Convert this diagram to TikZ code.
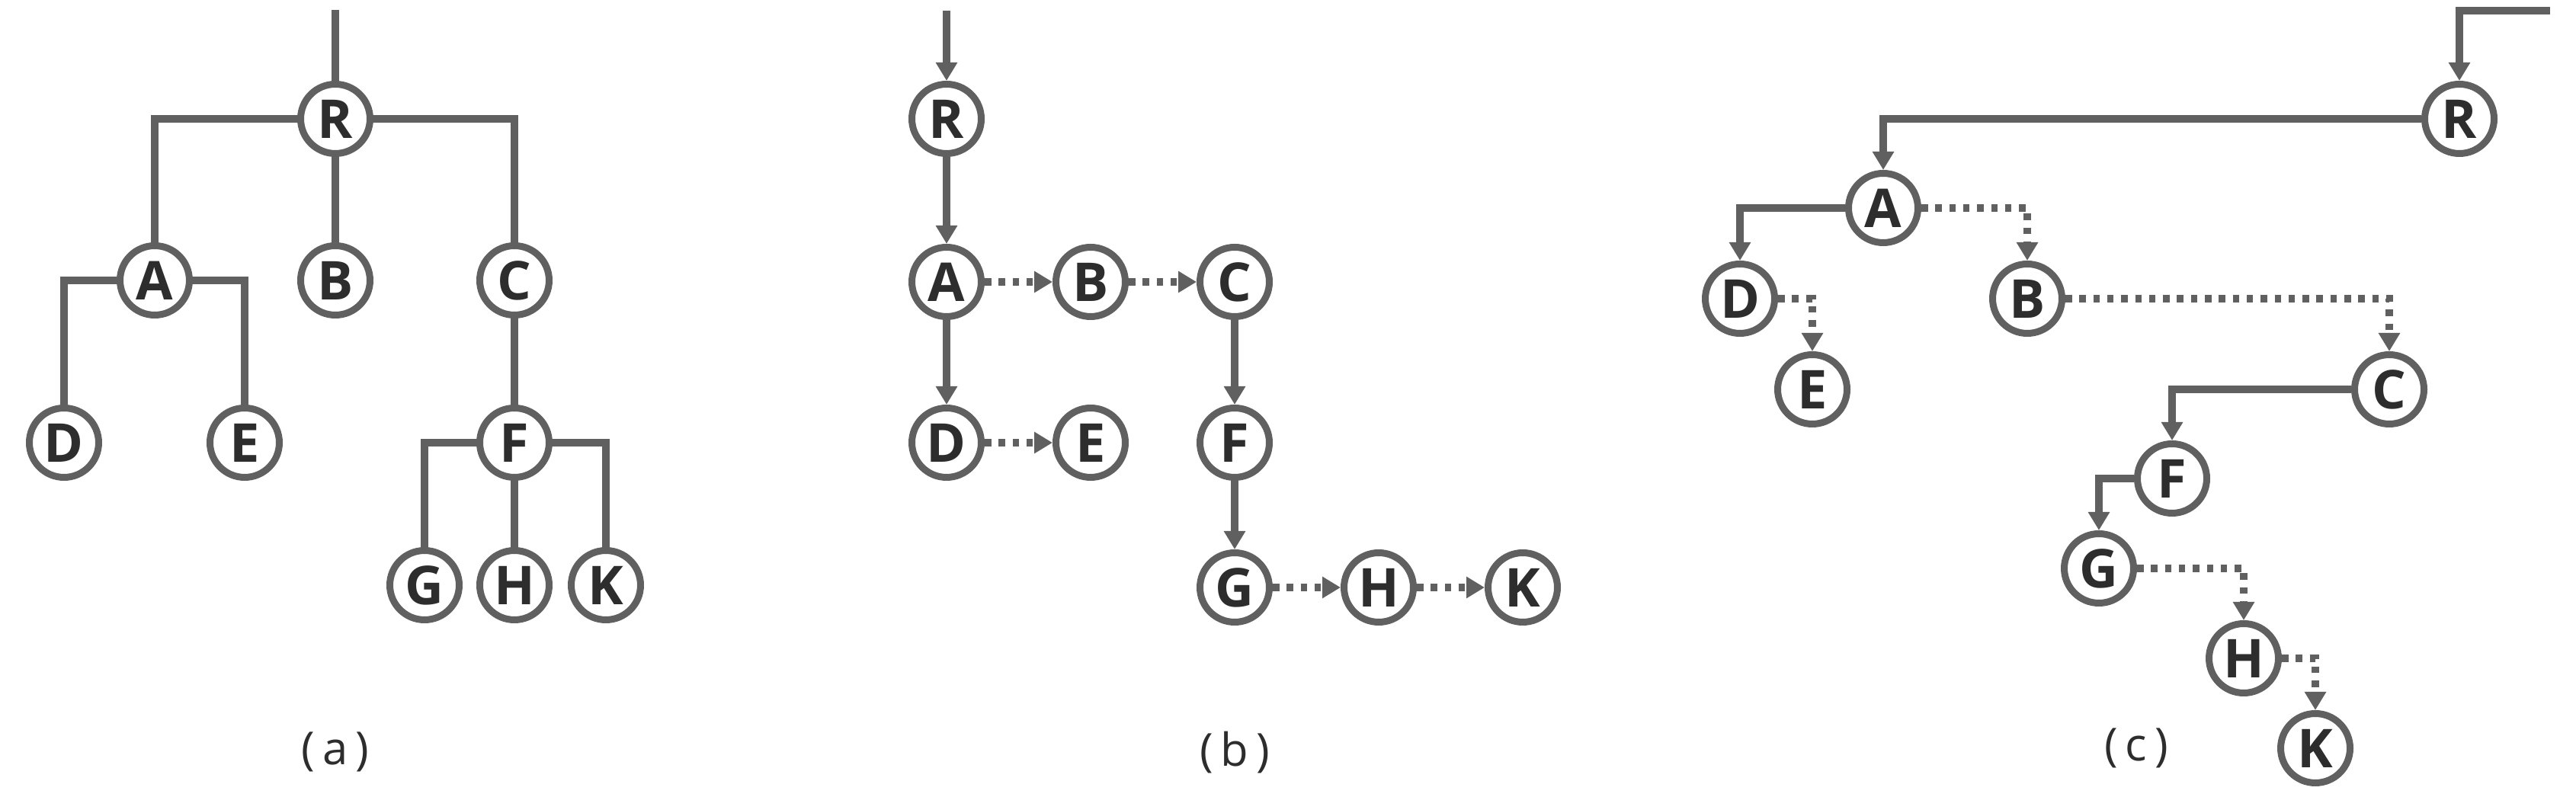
\documentclass[tikz,border=0pt]{standalone}
\usepackage{fontspec}
\setmainfont{Open Sans}
\usepackage{xcolor}
\usepackage{tikz}
\usetikzlibrary{arrows.meta,automata}
\usetikzlibrary{positioning}

\definecolor{linegray}{RGB}{96,96,96}
\definecolor{textgray}{RGB}{45,45,45}

\begin{document}
\begin{tikzpicture}[-,>={Triangle[length=0.24cm,width=0.27cm]},auto,on grid,
                    node distance=2.12cm and 1.89cm,line width=0.1cm,
                    color=linegray,text=textgray]
  \tikzstyle{every state}=[fill=white, draw=linegray, text=textgray, minimum size=0.91cm,
                           inner sep=0pt, line width=0.09cm, font=\bfseries\fontsize{20}{20}\selectfont]
  \tikzstyle{elbow}=[to path={-| (\tikztotarget) \tikztonodes}]
  \tikzstyle{sibling}=[dash pattern=on 0.085cm off 0.098cm]
  \tikzstyle{caption}=[font=\fontsize{17}{17}\selectfont]
  \useasboundingbox (-4.40,1.56) rectangle (29.40,-8.90);

  % (a) the tree
  \node[state] (aR)                                        {R};
  \node[state] (aA) [below left=2.12cm and 2.37cm of aR]   {A};
  \node[state] (aB) [below=of aR]                          {B};
  \node[state] (aC) [below right=2.12cm and 2.35cm of aR]  {C};
  \node[state] (aD) [below left=2.13cm and 1.19cm of aA]   {D};
  \node[state] (aE) [below right=2.13cm and 1.18cm of aA]  {E};
  \node[state] (aF) [below=2.13cm of aC]                   {F};
  \node[state] (aG) [below left=1.87cm and 1.18cm of aF]   {G};
  \node[state] (aH) [below=1.87cm of aF]                   {H};
  \node[state] (aK) [below right=1.87cm and 1.20cm of aF]  {K};
  \coordinate[above=1.43cm of aR] (aIn);
  \node[caption] (aCap) [below=6.19cm of aB] {(\,a\,)};
  \path (aIn) edge (aR)
        (aR) edge[elbow] (aA)
             edge (aB)
             edge[elbow] (aC)
        (aA) edge[elbow] (aD)
             edge[elbow] (aE)
        (aC) edge (aF)
        (aF) edge[elbow] (aG)
             edge (aH)
             edge[elbow] (aK);

  % (b)
  \node[state] (bR) [right=8.02cm of aR]  {R};
  \node[state] (bA) [below=2.14cm of bR]  {A};
  \node[state] (bB) [right=of bA]         {B};
  \node[state] (bC) [right=of bB]         {C};
  \node[state] (bD) [below=2.11cm of bA]  {D};
  \node[state] (bE) [right=of bD]         {E};
  \node[state] (bF) [below=2.11cm of bC]  {F};
  \node[state] (bG) [below=1.90cm of bF]  {G};
  \node[state] (bH) [right=of bG]         {H};
  \node[state] (bK) [right=of bH]         {K};
  \coordinate[above=1.42cm of bR] (bIn);
  \node[caption] (bCap) [below=2.17cm of bG] {(\,b\,)};
  \path[->] (bIn) edge (bR)
        (bR) edge (bA)
        (bA) edge (bD)
             edge[sibling] (bB)
        (bB) edge[sibling] (bC)
        (bD) edge[sibling] (bE)
        (bC) edge (bF)
        (bF) edge (bG)
        (bG) edge[sibling] (bH)
        (bH) edge[sibling] (bK);

  % (c)
  \node[state] (cR) [right=19.85cm of bR]                  {R};
  \node[state] (cA) [below left=1.17cm and 7.56cm of cR]   {A};
  \node[state] (cD) [below left=1.19cm and 1.88cm of cA]   {D};
  \node[state] (cB) [below right=1.19cm and 1.89cm of cA]  {B};
  \node[state] (cE) [below right=1.19cm and 0.95cm of cD]  {E};
  \node[state] (cC) [below right=1.19cm and 4.75cm of cB]  {C};
  \node[state] (cF) [below left=1.17cm and 2.85cm of cC]   {F};
  \node[state] (cG) [below left=1.18cm and 0.96cm of cF]   {G};
  \node[state] (cH) [below right=1.18cm and 1.90cm of cG]  {H};
  \node[state] (cK) [below right=1.18cm and 0.94cm of cH]  {K};
  \coordinate[above right=1.42cm and 1.19cm of cR] (cIn);
  \node[caption] (cCap) [left=2.35cm of cK] {(\,c\,)};
  \path[->] (cIn) edge[elbow] (cR)
        (cR) edge[elbow] (cA)
        (cA) edge[elbow] (cD)
             edge[elbow,sibling] (cB)
        (cD) edge[elbow,sibling] (cE)
        (cB) edge[elbow,sibling] (cC)
        (cC) edge[elbow] (cF)
        (cF) edge[elbow] (cG)
        (cG) edge[elbow,sibling] (cH)
        (cH) edge[elbow,sibling] (cK);
\end{tikzpicture}
\end{document}
